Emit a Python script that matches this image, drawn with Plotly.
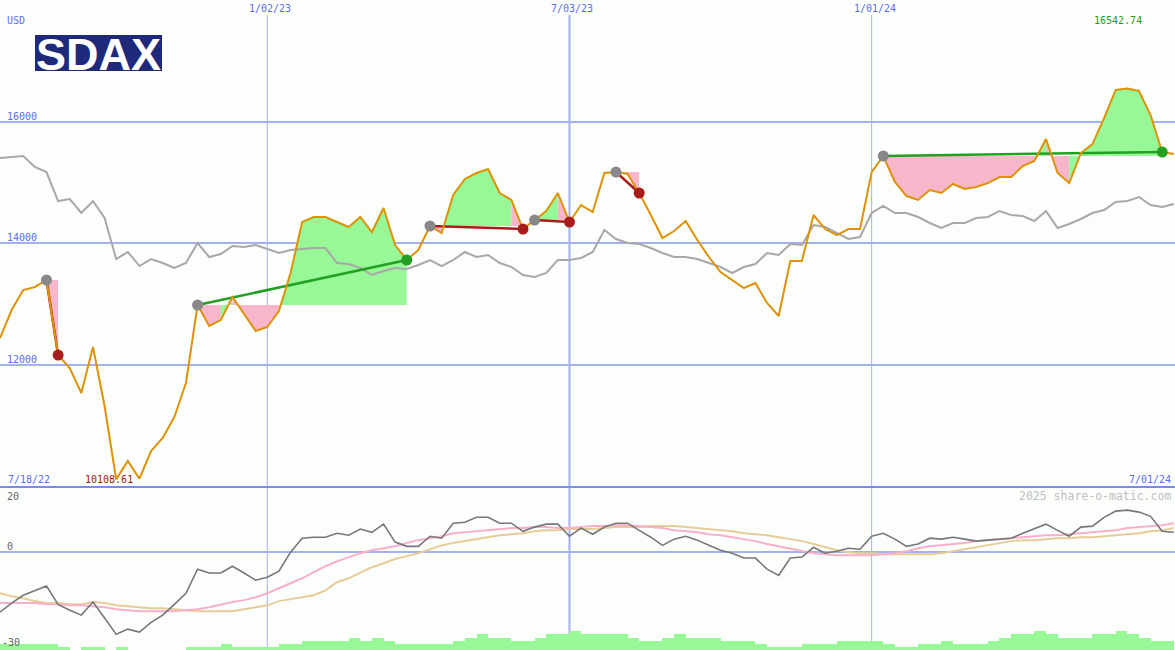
import pandas as pd
import plotly.graph_objects as go

W, H = 1175, 650

# ---------------- data ----------------
dates = pd.date_range("2022-07-25", periods=102, freq="7D")

price = [12436, 12897, 13226, 13276, 13391, 12156, 11942, 11531, 12288, 11317,
         10109, 10412, 10120, 10576, 10790, 11136, 11695, 12979, 12634, 12732,
         13111, 12831, 12551, 12617, 12881, 13506, 14345, 14428, 14428, 14345,
         14263, 14428, 14181, 14576, 13967, 13720, 13885, 14280, 14164, 14790,
         15053, 15152, 15218, 14823, 14708, 14230, 14378, 14527, 14823, 14345,
         14625, 14510, 15152, 15168, 15136, 14823, 14461, 14082, 14197, 14362,
         14049, 13769, 13522, 13391, 13259, 13341, 13012, 12798, 13704, 13704,
         14461, 14230, 14131, 14230, 14230, 15168, 15432, 15004, 14773, 14708,
         14872, 14823, 14971, 14889, 14922, 14987, 15086, 15086, 15267, 15350,
         15712, 15152, 14987, 15481, 15629, 16057, 16520, 16543, 16502, 16107,
         15498, 15465]

benchmark = [15399, 15415, 15432, 15251, 15168, 14691, 14724, 14494, 14691, 14411,
             13736, 13852, 13621, 13736, 13671, 13588, 13671, 14000, 13769, 13819,
             13950, 13934, 13967, 13901, 13835, 13885, 13901, 13917, 13917, 13671,
             13654, 13588, 13473, 13539, 13588, 13572, 13638, 13720, 13621, 13720,
             13852, 13769, 13802, 13671, 13605, 13473, 13440, 13506, 13720, 13720,
             13753, 13852, 14214, 14066, 14000, 13983, 13917, 13835, 13769, 13769,
             13736, 13671, 13605, 13506, 13605, 13654, 13835, 13802, 13983, 13967,
             14296, 14263, 14164, 14066, 14099, 14494, 14609, 14494, 14494, 14428,
             14329, 14247, 14329, 14329, 14411, 14428, 14527, 14461, 14444, 14362,
             14527, 14247, 14313, 14395, 14494, 14543, 14675, 14691, 14757, 14625,
             14592, 14642]

momentum = [-18.4, -15.6, -13.2, -11.7, -10.4, -16.0, -17.8, -19.3, -15.3, -20.2,
            -25.2, -23.6, -24.5, -21.5, -19.3, -16.0, -12.6, -5.2, -6.4, -6.4,
            -4.3, -6.4, -8.6, -7.7, -5.8, 0.0, 4.3, 4.6, 4.6, 5.8,
            5.2, 7.1, 6.1, 8.6, 3.1, 1.8, 1.8, 4.9, 4.3, 8.9,
            9.2, 10.7, 10.7, 8.9, 8.9, 6.4, 7.7, 8.6, 8.6, 4.9,
            7.4, 5.5, 7.7, 8.9, 8.9, 6.7, 4.6, 2.1, 4.0, 4.9,
            3.7, 2.1, 0.6, -0.3, -1.8, -1.8, -5.2, -7.1, -1.8, -1.5,
            1.5, -0.3, 0.3, 1.2, 0.9, 4.9, 5.8, 4.0, 1.8, 2.5,
            4.3, 4.0, 4.6, 4.0, 3.4, 3.7, 4.0, 4.3, 5.8, 7.1,
            8.6, 6.7, 4.9, 7.7, 8.0, 10.7, 12.6, 12.9, 12.3, 11.0,
            6.4, 6.1]

signal_fast = [-15.6, -15.6, -15.6, -15.6, -16.0, -16.0, -16.3, -16.3, -16.6, -16.9,
               -17.5, -17.8, -18.1, -18.1, -18.1, -18.1, -17.8, -17.5, -16.9, -16.0,
               -15.3, -14.7, -13.8, -12.6, -11.0, -9.5, -8.0, -6.1, -4.3, -2.8,
               -1.5, -0.3, 0.6, 1.2, 1.8, 2.8, 3.7, 4.3, 4.9, 5.8,
               6.1, 6.4, 6.7, 7.1, 7.4, 7.4, 7.7, 7.7, 7.4, 7.4,
               7.7, 8.0, 8.0, 8.3, 8.3, 8.0, 7.7, 7.4, 6.7, 6.4,
               6.1, 5.5, 5.2, 4.6, 4.0, 3.4, 2.5, 1.8, 0.9, 0.3,
               -0.3, -0.6, -0.9, -0.9, -0.9, -0.9, -0.6, -0.3, 0.3, 1.2,
               1.8, 2.1, 2.5, 2.8, 3.4, 3.7, 4.0, 4.3, 4.6, 4.9,
               5.2, 5.2, 5.5, 5.8, 6.1, 6.4, 6.7, 7.4, 7.7, 8.0,
               8.3, 8.9]

signal_slow = [-12.6, -13.5, -14.1, -15.0, -15.6, -15.6, -16.0, -16.0, -15.3, -15.6,
               -16.3, -16.6, -16.9, -17.2, -17.2, -17.5, -17.8, -18.1, -18.1, -18.1,
               -18.1, -17.5, -16.9, -16.3, -15.0, -14.4, -13.8, -13.2, -11.7, -9.2,
               -8.0, -6.4, -4.6, -3.4, -2.1, -1.2, -0.3, 0.9, 2.1, 2.8,
               3.4, 4.0, 4.6, 5.2, 5.5, 5.8, 6.4, 6.7, 6.7, 7.1,
               7.1, 7.1, 7.4, 7.7, 7.7, 7.7, 8.0, 8.0, 8.0, 7.7,
               7.4, 7.1, 6.7, 6.4, 5.8, 5.5, 5.2, 4.6, 4.0, 3.4,
               2.5, 1.5, 0.6, 0.0, -0.3, -0.3, -0.6, -0.6, -0.6, -0.6,
               -0.6, -0.3, 0.3, 0.9, 1.5, 2.1, 2.8, 3.4, 3.7, 3.7,
               4.0, 4.3, 4.3, 4.6, 4.6, 4.9, 5.2, 5.5, 5.8, 6.4,
               6.7, 7.4]

volume = [2, 2, 2, 2, 2, 1, 0, 1, 1, 0,
          1, 0, 0, 0, 0, 0, 1, 1, 1, 2,
          1, 1, 1, 1, 2, 2, 3, 3, 3, 3,
          4, 3, 4, 3, 2, 2, 2, 2, 2, 3,
          4, 5, 4, 4, 3, 3, 4, 5, 5, 6,
          5, 5, 5, 5, 4, 3, 3, 4, 5, 4,
          4, 4, 3, 3, 3, 2, 1, 1, 1, 2,
          2, 2, 3, 3, 3, 3, 2, 1, 1, 2,
          2, 3, 2, 2, 2, 3, 4, 5, 5, 6,
          5, 4, 4, 4, 5, 5, 6, 5, 4, 3,
          3]

trade_entry = [4, 17, 37, 46, 53, 76]
trade_exit = [5, 35, 45, 49, 55, 100]

price_ticks = [12000, 14000, 16000]
date_ticks = ["2023-01-02", "2023-07-03", "2024-01-01"]
date_labels = ["1/02/23", "7/03/23", "1/01/24"]
date_line_w = [1, 2, 1]
min_label = "10108.61"
max_label = "16542.74"

# ---------------- style ----------------
BG = "#fcfefc"
GRID = "#a3b0f2"
SEP = "#7a8af0"
TXT = "#5b6cf2"
ORANGE = "#dd9208"
GRAYL = "#a8a8a8"
GREEN_FILL = "#98f898"
PINK_FILL = "#f8b6ca"
LOSS = "#a81c1c"
WIN = "#22a022"
FONT = "DejaVu Sans Mono"

fig = go.Figure()

# fills between entry level and price; consecutive same-colour weekly segments merged
for e, x_ in zip(trade_entry, trade_exit):
    level = price[e]
    cols = [GREEN_FILL if price[i + 1] >= level else PINK_FILL for i in range(e, x_)]
    start = e
    for k in range(len(cols)):
        i = e + k
        last = (k == len(cols) - 1) or (cols[k + 1] != cols[k])
        if last:
            idx = list(range(start, i + 2))
            xs = [dates[start]] + [dates[j] for j in idx] + [dates[i + 1], dates[start]]
            ys = [level] + [price[j] for j in idx] + [level, level]
            fig.add_trace(go.Scatter(x=xs, y=ys, mode="lines", fill="toself",
                                     fillcolor=cols[k], line=dict(width=0, color=cols[k]),
                                     hoverinfo="skip"))
            start = i + 1

# benchmark (gray)
fig.add_trace(go.Scatter(x=dates, y=benchmark, mode="lines",
                         line=dict(color=GRAYL, width=2), hoverinfo="skip"))

# trade lines (under the price line)
for e, x_ in zip(trade_entry, trade_exit):
    col = WIN if price[x_] > price[e] else LOSS
    fig.add_trace(go.Scatter(x=[dates[e], dates[x_]], y=[price[e], price[x_]],
                             mode="lines", line=dict(color=col, width=2.5),
                             hoverinfo="skip"))

# price (orange)
fig.add_trace(go.Scatter(x=dates, y=price, mode="lines",
                         line=dict(color=ORANGE, width=2), hoverinfo="skip"))

# trade markers
for e, x_ in zip(trade_entry, trade_exit):
    col = WIN if price[x_] > price[e] else LOSS
    fig.add_trace(go.Scatter(x=[dates[e]], y=[price[e]], mode="markers",
                             marker=dict(color="#888888", size=11), hoverinfo="skip"))
    fig.add_trace(go.Scatter(x=[dates[x_]], y=[price[x_]], mode="markers",
                             marker=dict(color=col, size=11), hoverinfo="skip"))

# lower panel
fig.add_trace(go.Bar(x=dates[:len(volume)], y=volume, offset=0,
                     width=7 * 86400000, marker=dict(color=GREEN_FILL, line=dict(width=0)),
                     xaxis="x2", yaxis="y3", hoverinfo="skip"))
fig.add_trace(go.Scatter(x=dates, y=signal_slow, mode="lines", xaxis="x2", yaxis="y2",
                         line=dict(color="#e6cc98", width=2), hoverinfo="skip"))
fig.add_trace(go.Scatter(x=dates, y=signal_fast, mode="lines", xaxis="x2", yaxis="y2",
                         line=dict(color="#f8b0c8", width=2), hoverinfo="skip"))
fig.add_trace(go.Scatter(x=dates, y=momentum, mode="lines", xaxis="x2", yaxis="y2",
                         line=dict(color="#777777", width=1.6), hoverinfo="skip"))

main_bottom = 1 - 486 / H
lower_top = 1 - 487 / H
xr = ["2022-07-25", "2024-07-01 17:00"]

shapes = []
for d, w in zip(date_ticks, date_line_w):
    shapes.append(dict(type="line", xref="x", yref="paper", x0=d, x1=d,
                       y0=0, y1=1 - 15 / H, line=dict(color=GRID, width=w), layer="below"))
# logo box
shapes.append(dict(type="rect", xref="paper", yref="paper",
                   x0=35 / W, x1=162 / W, y0=1 - 71 / H, y1=1 - 35 / H,
                   fillcolor="#1f297a", line=dict(width=0), layer="above"))

ann = []
def A(text, x, y, xref="paper", yref="paper", xanchor="left", yanchor="middle",
      color=TXT, size=10, xshift=0, yshift=0, family=FONT):
    ann.append(dict(text=text, x=x, y=y, xref=xref, yref=yref, xanchor=xanchor,
                    yanchor=yanchor, showarrow=False, xshift=xshift, yshift=yshift,
                    font=dict(family=family, size=size, color=color)))

A("USD", 5 / W, 1 - 20 / H)
for v in price_ticks:
    A(str(v), 5 / W, v, yref="y", yanchor="bottom", yshift=-2)
for d, lab in zip(date_ticks, date_labels):
    A(lab, d, 1 - 8 / H, xref="x", xanchor="center", xshift=3)
A("7/18/22", 6 / W, 1 - 479 / H)
A(min_label, 83 / W, 1 - 479 / H, color="#a01818")
A("7/01/24", 1173 / W, 1 - 479 / H, xanchor="right")
A(max_label, 1144 / W, 1 - 21 / H, xanchor="right", color="#1e9a1e")
A("2025 share-o-matic.com", 1173 / W, 1 - 496 / H, xanchor="right",
  color="#c0c0c0", size=11.5)
A("20", 5 / W, 1 - 496 / H, color="#666666")
A("0", 5 / W, 1 - 546 / H, color="#666666")
A("-30", 0 / W, 1 - 642 / H, color="#666666")
A("<b>SDAX</b>", 98 / W, 1 - 53 / H, xanchor="center", color="white", size=45,
  family="Liberation Sans", yshift=-1)

fig.update_layout(
    width=W, height=H, margin=dict(l=0, r=0, t=0, b=0),
    paper_bgcolor=BG, plot_bgcolor=BG, showlegend=False, hovermode=False,
    bargap=0,
    xaxis=dict(domain=[0, 1], range=xr, anchor="y", showgrid=False,
               showticklabels=False, ticks="", zeroline=False,
               showline=True, linecolor=SEP, linewidth=2),
    xaxis2=dict(domain=[0, 1], range=xr, anchor="y2", matches="x", showgrid=False,
                showticklabels=False, ticks="", zeroline=False),
    yaxis=dict(domain=[main_bottom, 1], range=[10000, 18000], tickvals=price_ticks,
               showgrid=True, gridcolor=GRID, gridwidth=2, showticklabels=False,
               zeroline=False, ticks=""),
    yaxis2=dict(domain=[0, lower_top], range=[-30, 20], tickvals=[0],
                showgrid=True, gridcolor=GRID, gridwidth=2, showticklabels=False,
                zeroline=False, ticks=""),
    yaxis3=dict(domain=[0, lower_top], range=[0, 52.5], overlaying="y2",
                showgrid=False, showticklabels=False, zeroline=False, ticks=""),
    shapes=shapes, annotations=ann,
)

fig.write_html("out.html", config={"displayModeBar": False},
               post_script="document.body.style.margin='0px';document.body.style.background='" + BG + "';")
